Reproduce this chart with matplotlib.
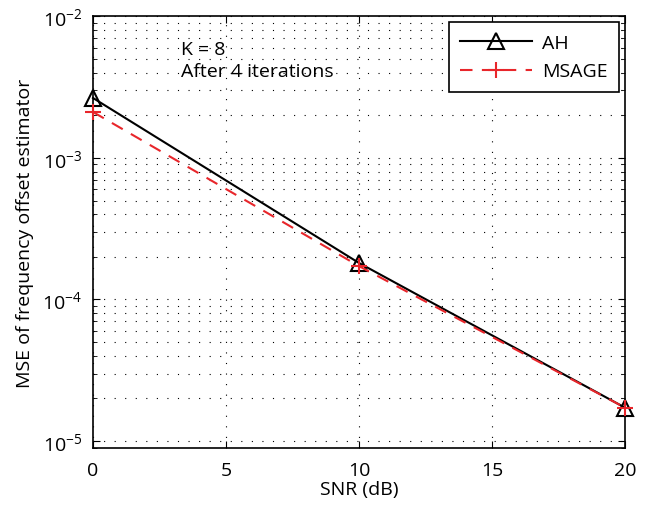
import matplotlib.pyplot as plt
from matplotlib.ticker import LogLocator, NullFormatter

# MSE of the frequency offset estimator vs SNR
snr_db = [0, 10, 20]
mse_ah = [2.65e-3, 1.81e-4, 1.72e-5]
mse_msage = [2.11e-3, 1.72e-4, 1.72e-5]

plt.rcParams['font.family'] = ['Open Sans', 'DejaVu Sans']
plt.rcParams['mathtext.fontset'] = 'custom'
plt.rcParams['mathtext.rm'] = 'Open Sans'

fs = 14

fig = plt.figure(figsize=(6.58, 5.06), dpi=100)
ax = fig.add_axes([0.1413, 0.1126, 0.8087, 0.8532])

ax.semilogy(snr_db, mse_ah, color='black', linestyle='-', linewidth=1.5,
            marker='^', markersize=11, markerfacecolor='none',
            markeredgewidth=1.5, label='AH', clip_on=False, zorder=4)
ax.semilogy(snr_db, mse_msage, color='#e8262b', linestyle=(0, (6, 4.5)),
            linewidth=1.5, marker='+', markersize=11, markeredgewidth=1.5,
            label='MSAGE', clip_on=False, zorder=5)

ax.set_xlim(0, 20)
ax.set_ylim(8.93e-6, 1e-2)
ax.set_xticks([0, 5, 10, 15, 20])
ax.yaxis.set_major_locator(LogLocator(base=10, numticks=10))
ax.yaxis.set_minor_locator(LogLocator(base=10, subs=range(2, 10), numticks=10))
ax.yaxis.set_minor_formatter(NullFormatter())

dots = (0, (1, 8.5))
ax.grid(True, which='major', linestyle=dots, color='black', linewidth=0.8)
ax.grid(True, which='minor', axis='y', linestyle=dots, color='black', linewidth=0.8)

ax.tick_params(which='both', direction='in', top=True, right=True, labelsize=fs)
ax.tick_params(which='major', length=5)
ax.tick_params(which='minor', length=3)
ax.tick_params(axis='x', pad=9)
ax.tick_params(axis='y', pad=8)
for sp in ax.spines.values():
    sp.set_linewidth(1.2)

ax.set_xlabel('SNR (dB)', fontsize=fs, labelpad=1)
ax.set_ylabel('MSE of frequency offset estimator', fontsize=fs, labelpad=6)

ax.text(0.165, 0.945, 'K = 8\nAfter 4 iterations', transform=ax.transAxes,
        fontsize=fs, va='top', ha='left', linespacing=1.25)

leg = ax.legend(loc='upper right', fontsize=fs, fancybox=False,
                framealpha=1, edgecolor='black', borderaxespad=0.3,
                handlelength=3.7, borderpad=0.6, labelspacing=0.55,
                handletextpad=0.5)
leg.get_frame().set_linewidth(1.2)

fig.savefig('out.png', dpi=100)
